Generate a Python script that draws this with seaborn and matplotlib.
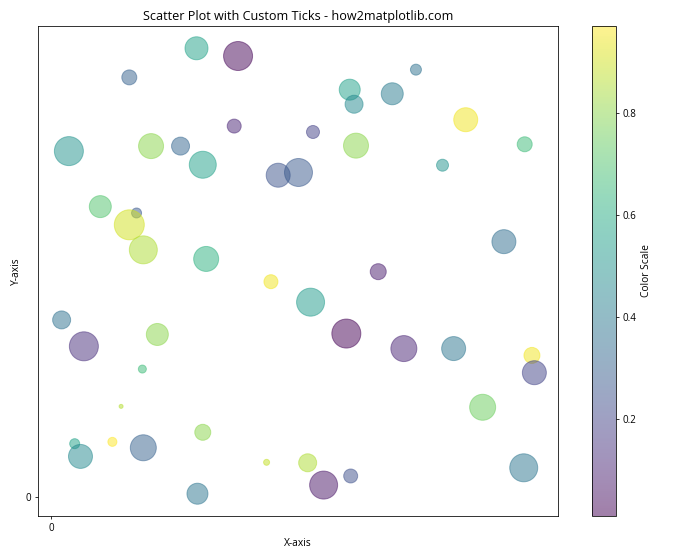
import numpy as np
import pandas as pd
import matplotlib
matplotlib.use("Agg")
import matplotlib.pyplot as plt
import seaborn as sns

plt.rcParams['font.family'] = ['Open Sans', 'DejaVu Sans']

# Data (x, y in [0,1]; colour values; marker areas in pt^2)
x_vals = [0.300, 0.161, 0.036, 0.206, 0.267, 0.313, 0.101, 0.176, 0.161, 0.190,
          0.320, 0.386, 0.617, 0.626, 0.378, 0.541, 0.630, 0.469, 0.511, 0.676,
          0.754, 0.705, 0.857, 0.979, 0.809, 0.936, 0.021, 0.067, 0.219, 0.188,
          0.144, 0.048, 0.060, 0.126, 0.190, 0.313, 0.302, 0.454, 0.536, 0.610,
          0.445, 0.530, 0.563, 0.619, 0.729, 0.832, 0.994, 0.999, 0.892, 0.977]
y_vals = [0.986, 0.922, 0.760, 0.771, 0.771, 0.730, 0.638, 0.624, 0.598, 0.543,
          0.523, 0.969, 0.895, 0.863, 0.815, 0.802, 0.772, 0.707, 0.713, 0.495,
          0.939, 0.886, 0.829, 0.775, 0.729, 0.561, 0.389, 0.331, 0.357, 0.281,
          0.199, 0.117, 0.089, 0.121, 0.108, 0.142, 0.007, 0.473, 0.428, 0.359,
          0.076, 0.075, 0.026, 0.046, 0.326, 0.326, 0.311, 0.273, 0.197, 0.064]
color_vals = [0.56, 0.30, 0.50, 0.80, 0.32, 0.55, 0.70, 0.27, 0.90, 0.85,
              0.62, 0.02, 0.55, 0.46, 0.10, 0.19, 0.80, 0.25, 0.27, 0.08,
              0.36, 0.40, 0.95, 0.66, 0.50, 0.35, 0.36, 0.13, 0.80, 0.66,
              0.86, 0.56, 0.46, 0.97, 0.30, 0.80, 0.38, 0.95, 0.53, 0.01,
              0.88, 0.85, 0.06, 0.24, 0.10, 0.38, 0.95, 0.20, 0.75, 0.38]
size_vals = [560, 238, 890, 661, 343, 771, 512, 106, 952, 829,
             661, 890, 467, 343, 207, 179, 661, 609, 829, 271,
             128, 512, 609, 238, 152, 609, 343, 890, 512, 68,
             17, 106, 609, 86, 715, 271, 467, 207, 829, 890,
             38, 343, 829, 207, 715, 609, 271, 609, 715, 829]

df = pd.DataFrame({"x": x_vals, "y": y_vals, "c": color_vals, "s": size_vals})

fig = plt.figure(figsize=(10, 8), dpi=70)
ax = fig.add_axes([38/700, 1 - 516/560, (558 - 38)/700, (516 - 26)/560])
cax = fig.add_axes([592/700, 1 - 516/560, 24/700, (516 - 26)/560])

sns.scatterplot(x=df["x"].values, y=df["y"].values, c=df["c"].values, cmap="viridis",
                s=df["s"].values, alpha=0.5, edgecolor="face", linewidth=1.0, ax=ax)

sc = ax.collections[0]
cb = fig.colorbar(sc, cax=cax)
cb.set_label("Color Scale", fontsize=10.5)
cb.ax.tick_params(labelsize=10)

ax.set_xticks([0])
ax.set_yticks([0])
ax.tick_params(labelsize=10)
ax.set_title("Scatter Plot with Custom Ticks - how2matplotlib.com", fontsize=13)
ax.set_xlabel("X-axis", fontsize=10.5)
ax.set_ylabel("Y-axis", fontsize=10.5)

fig.savefig("out.png", dpi=70)
